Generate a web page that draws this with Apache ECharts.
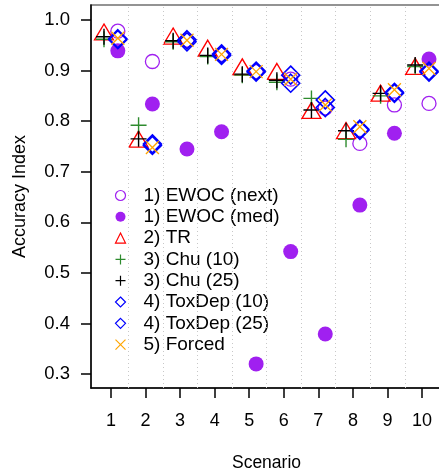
<!DOCTYPE html>
<html>
<head>
<meta charset="utf-8">
<script src="https://cdn.jsdelivr.net/npm/echarts@6/dist/echarts.min.js"></script>
<style>
html,body{margin:0;padding:0;background:#fff;}
#chart{width:439px;height:472px;}
</style>
</head>
<body>
<div id="chart"></div>
<script>
const scenarios = [1, 2, 3, 4, 5, 6, 7, 8, 9, 10];
const xTicks = [1, 2, 3, 4, 5, 6, 7, 8, 9, 10];
const yTicks = [0.3, 0.4, 0.5, 0.6, 0.7, 0.8, 0.9, 1.0];
const separators = [1.5, 2.5, 3.5, 4.5, 5.5, 6.5, 7.5, 8.5, 9.5];

const ewocNext = [0.978, 0.918, 0.960, 0.932, 0.898, 0.883, 0.826, 0.756, 0.832, 0.835];
const ewocMed  = [0.939, 0.834, 0.745, 0.779, 0.320, 0.542, 0.379, 0.634, 0.776, 0.923];
const tr       = [0.971, 0.759, 0.963, 0.939, 0.902, 0.893, 0.816, 0.776, 0.850, 0.903];
const chu10    = [0.962, 0.792, 0.957, 0.928, 0.891, 0.877, 0.845, 0.764, 0.850, 0.908];
const chu25    = [0.967, 0.765, 0.959, 0.930, 0.893, 0.881, 0.822, 0.781, 0.855, 0.911];
const toxDep10 = [0.963, 0.755, 0.961, 0.933, 0.899, 0.891, 0.842, 0.784, 0.857, 0.899];
const toxDep25 = [0.961, 0.752, 0.957, 0.930, 0.897, 0.875, 0.827, 0.782, 0.855, 0.897];
const forced   = [0.964, 0.748, 0.960, 0.932, 0.898, 0.883, 0.832, 0.789, 0.862, 0.904];

const FONT = "'Liberation Sans', Arial, Helvetica, sans-serif";
const PLUS = 'path://M0,5L10,5M5,0L5,10';
const CROSS = 'path://M0,0L10,10M10,0L0,10';
const LEFT = -0.2, RIGHT = 0.2;

function pts(vals, off) { return scenarios.map((s, i) => [s + off, vals[i]]); }

function mk(name, vals, off, symbol, size, color, filled, bw, extra) {
  return Object.assign({
    name: name,
    type: 'scatter',
    data: pts(vals, off),
    symbol: symbol,
    symbolSize: size,
    itemStyle: filled
      ? { color: color, borderWidth: 0, opacity: 1 }
      : { color: 'none', borderColor: color, borderWidth: bw, opacity: 1 },
    emphasis: { disabled: true },
    silent: true
  }, extra || {});
}

const series = [
  {
    name: 'sep', type: 'scatter', data: [], silent: true,
    markLine: {
      silent: true, symbol: 'none', animation: false,
      label: { show: false },
      lineStyle: { color: '#c8c8c8', type: [1, 3], width: 1 },
      data: separators.map(v => ({ xAxis: v }))
    }
  },
  mk('1) EWOC (next)', ewocNext, RIGHT, 'circle', 14, '#A020F0', false, 1.3),
  mk('1) EWOC (med)', ewocMed, RIGHT, 'circle', 15, '#A020F0', true, 0),
  mk('2) TR', tr, LEFT, 'triangle', [19, 16], '#FF0000', false, 1.3, { symbolOffset: [0, -2.7] }),
  mk('3) Chu (10)', chu10, LEFT, PLUS, 16, '#2E8B2E', false, 1.4),
  mk('3) Chu (25)', chu25, LEFT, PLUS, 16, '#000000', false, 1.4),
  mk('4) ToxDep (10)', toxDep10, RIGHT, 'diamond', 18, '#0000FF', false, 1.6),
  mk('4) ToxDep (25)', toxDep25, RIGHT, 'diamond', 18, '#0000FF', false, 1.6),
  mk('5) Forced', forced, RIGHT, CROSS, 13, '#FFA500', false, 1.3)
];

const chart = echarts.init(document.getElementById('chart'), null, { renderer: 'canvas' });
chart.setOption({
  animation: false,
  backgroundColor: '#ffffff',
  textStyle: { fontFamily: FONT },
  grid: {
    left: 91, top: 5, width: 351, height: 383,
    containLabel: false, outerBoundsMode: 'none',
    show: true, borderColor: '#707070', borderWidth: 1.5, backgroundColor: 'transparent'
  },
  legend: {
    orient: 'vertical',
    left: 108, top: 181,
    itemWidth: 10, itemHeight: 10, itemGap: 2.3,
    data: ['1) EWOC (next)', '1) EWOC (med)', '2) TR', '3) Chu (10)', '3) Chu (25)', '4) ToxDep (10)', '4) ToxDep (25)', '5) Forced'],
    textStyle: { fontFamily: FONT, fontSize: 19, color: '#000', padding: [0, 0, 0, 13] },
    selectedMode: false,
    itemStyle: { borderWidth: 1.2 }
  },
  xAxis: {
    type: 'value', min: 0.424, max: 10.576,
    name: 'Scenario', nameLocation: 'middle', nameGap: 66,
    nameTextStyle: { fontFamily: FONT, fontSize: 17.5, color: '#000' },
    axisLine: { show: true, onZero: false, lineStyle: { color: '#000', width: 1.5 } },
    axisTick: { show: true, length: 10, lineStyle: { color: '#000', width: 1.5 }, customValues: xTicks },
    axisLabel: { show: true, customValues: xTicks, margin: 24, fontFamily: FONT, fontSize: 18, color: '#000' },
    splitLine: { show: false }
  },
  yAxis: {
    type: 'value', min: 0.2723, max: 1.0297,
    name: 'Accuracy Index', nameLocation: 'middle', nameGap: 62,
    nameTextStyle: { fontFamily: FONT, fontSize: 18, color: '#000' },
    axisLine: { show: true, onZero: false, lineStyle: { color: '#000', width: 1.5 } },
    axisTick: { show: true, length: 10, lineStyle: { color: '#000', width: 1.5 }, customValues: yTicks },
    axisLabel: { show: true, customValues: yTicks, margin: 21, fontFamily: FONT, fontSize: 18.5, color: '#000',
      formatter: v => v.toFixed(1) },
    splitLine: { show: false }
  },
  series: series
});
</script>
</body>
</html>
